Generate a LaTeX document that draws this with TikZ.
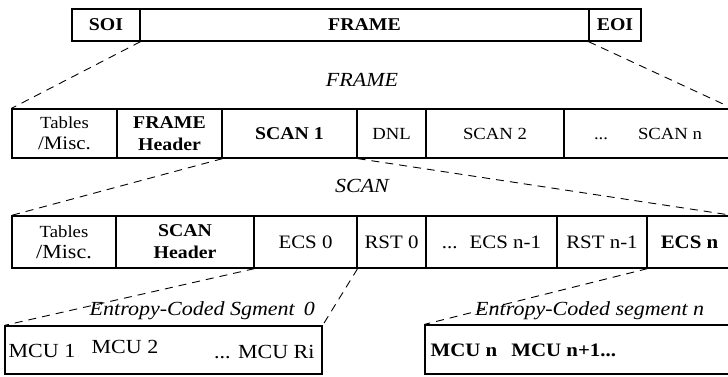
\documentclass[tikz,border=0pt]{standalone}
\usepackage{fontspec}
\setmainfont{Liberation Serif}[FakeStretch=1.1]
\usetikzlibrary{positioning}

\begin{document}
\begin{tikzpicture}[x=1pt,y=-1pt,
    cell/.style={draw,line width=1.2pt,inner sep=0pt,align=center},
    plain/.style={font=\fontsize{17}{21}\selectfont},
    bold/.style={font=\fontsize{18}{22}\selectfont\bfseries},
    large/.style={font=\fontsize{19}{20}\selectfont},
    mcu/.style={font=\fontsize{20}{20}\selectfont},
    zoomline/.style={dash pattern=on 8pt off 6pt,line width=0.9pt},
    title/.style={font=\fontsize{20}{20}\selectfont\itshape,inner sep=1pt}]
  \useasboundingbox (0,0) rectangle (728,376);

  \foreach \n/\l/\r/\s/\txt in {soi/72/140/bold/SOI,
      frame/140/589/bold/FRAME,eoi/589/641/bold/EOI}{%
    \node[cell,\s,minimum width={(\r-\l)*1pt},minimum height=32pt]
      (\n) at ({(\l+\r)/2},25) {\txt};
  }

  \node[title] (frametitle) at (362,80) {FRAME};
  \foreach \n/\l/\r/\s/\txt in {tab/12/117/plain/{Tables\\{\fontsize{19}{19}\selectfont/Misc.}},
      fhdr/117/222/bold/{FRAME\\Header},scanA/222/357/bold/{SCAN 1},
      dnl/357/426/plain/DNL,scanB/426/564/plain/{SCAN 2},
      scanN/564/732/plain/{...\hspace{30pt}SCAN n}}{%
    \node[cell,\s,minimum width={(\r-\l)*1pt},minimum height=49pt]
      (\n) at ({(\l+\r)/2},133.5) {\txt};
  }

  \node[title] (scantitle) at (362,186) {SCAN};
  \foreach \n/\l/\r/\s/\txt in {tabs/12/116/plain/{Tables\\{\fontsize{20}{20}\selectfont/Misc.}},
      shdr/116/254/bold/{SCAN\\Header},ecsA/254/357/large/{ECS 0},
      rstA/357/426/large/{RST 0},ecsM/426/557/large/{...\hspace{12pt}ECS n-1},
      rstM/557/647/large/{RST n-1},ecsN/647/732/bold/{\fontsize{19}{19}\selectfont ECS n}}{%
    \node[cell,\s,minimum width={(\r-\l)*1pt},minimum height=52pt]
      (\n) at ({(\l+\r)/2},242) {\txt};
  }

  \node[cell,minimum width=317pt,minimum height=48pt] (box0) at (163.5,350) {};
  \node[mcu] (mcuA) at (42,351) {MCU 1};
  \node[mcu] (mcuB) at (125,347) {MCU 2};
  \node[mcu,anchor=east] (mcuR) at (318,352) {... MCU Ri};
  \node[title,anchor=east] (enttitleA) at (316,311)
    {Entropy-Coded Sgment\hspace{9pt}0};

  \node[cell,minimum width=307pt,minimum height=49pt] (boxN) at (578.5,349.5) {};
  \node[bold,font=\fontsize{19}{20}\selectfont\bfseries,anchor=west] (mcuN)
    at (427,350) {MCU n\hspace{14pt}MCU n+1...};
  \node[title,anchor=west] (enttitleN) at (474,311) {Entropy-Coded segment n};

  \draw[zoomline] (soi.south east) -- (tab.north west);
  \draw[zoomline] (eoi.south west) -- (scanN.north east);
  \draw[zoomline] (fhdr.south east) -- (tabs.north west);
  \draw[zoomline] (scanA.south east) -- (ecsN.north east);
  \draw[zoomline] (shdr.south east) -- (box0.north west);
  \draw[zoomline] (ecsA.south east) -- (box0.north east);
  \draw[zoomline] (rstM.south east) -- (boxN.north west);
\end{tikzpicture}
\end{document}
